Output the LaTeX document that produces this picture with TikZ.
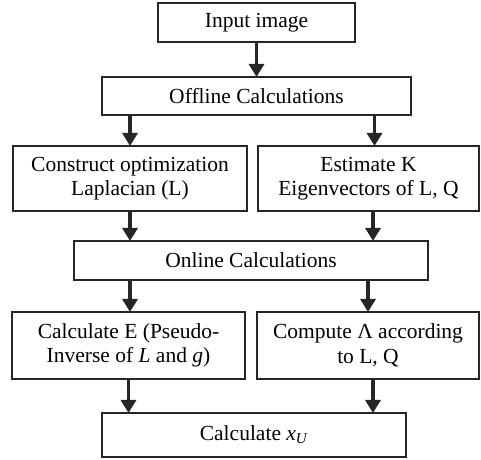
\documentclass[tikz,border=0pt]{standalone}
\usepackage{fontspec}
\setmainfont{Liberation Serif}
\usetikzlibrary{arrows.meta,calc}
\begin{document}
\begin{tikzpicture}[x=1pt,y=-1pt,
  box/.style={draw=black!85,line width=1.1pt,align=center,inner sep=0pt,font=\fontsize{21.5}{24.5}\selectfont},
  arr/.style={draw=black!85,line width=3.4pt,-{Triangle[width=15pt,length=13pt]},shorten >=-0.5pt}]
\useasboundingbox (0,0) rectangle (481,459);
\node[box,minimum width=197pt,minimum height=39pt] (in) at (256.5,22.5) {Input image};
\node[box,minimum width=309pt,minimum height=38pt] (off) at (256.5,96) {Offline Calculations};
\node[box,minimum width=234pt,minimum height=65pt] (lap) at (130,178.5) {Construct optimization\\Laplacian (L)};
\node[box,minimum width=221pt,minimum height=65pt] (eig) at (368.5,178.5) {Estimate K\\Eigenvectors of L, Q};
\node[box,minimum width=354pt,minimum height=39pt] (on) at (251,260.5) {Online Calculations};
\node[box,minimum width=233pt,minimum height=67pt] (pse) at (128.5,345.5) {Calculate E (Pseudo-\\Inverse of \textit{L} and \textit{g})};
\node[box,minimum width=222pt,minimum height=67pt] (lam) at (368,345.5) {Compute Λ according\\to L, Q};
\node[box,minimum width=304pt,minimum height=44pt] (xu) at (254,435) {Calculate \textit{x}\textsubscript{\textit{U}}};
\draw[arr] (in.south) -- (in.south |- off.north);
\draw[arr] (off.south -| lap.north) -- (lap.north);
\draw[arr] ([xshift=6pt]eig.north |- off.south) -- ([xshift=6pt]eig.north);
\draw[arr] (lap.south) -- (lap.south |- on.north);
\draw[arr] ([xshift=4.5pt]eig.south) -- ([xshift=4.5pt]eig.south |- on.north);
\draw[arr] (on.south -| lap.south) -- (lap.south |- pse.north);
\draw[arr] (on.south -| lam.north) -- (lam.north);
\draw[arr] (pse.south) -- (pse.south |- xu.north);
\draw[arr] ([xshift=5pt]lam.south) -- ([xshift=5pt]lam.south |- xu.north);
\end{tikzpicture}
\end{document}
